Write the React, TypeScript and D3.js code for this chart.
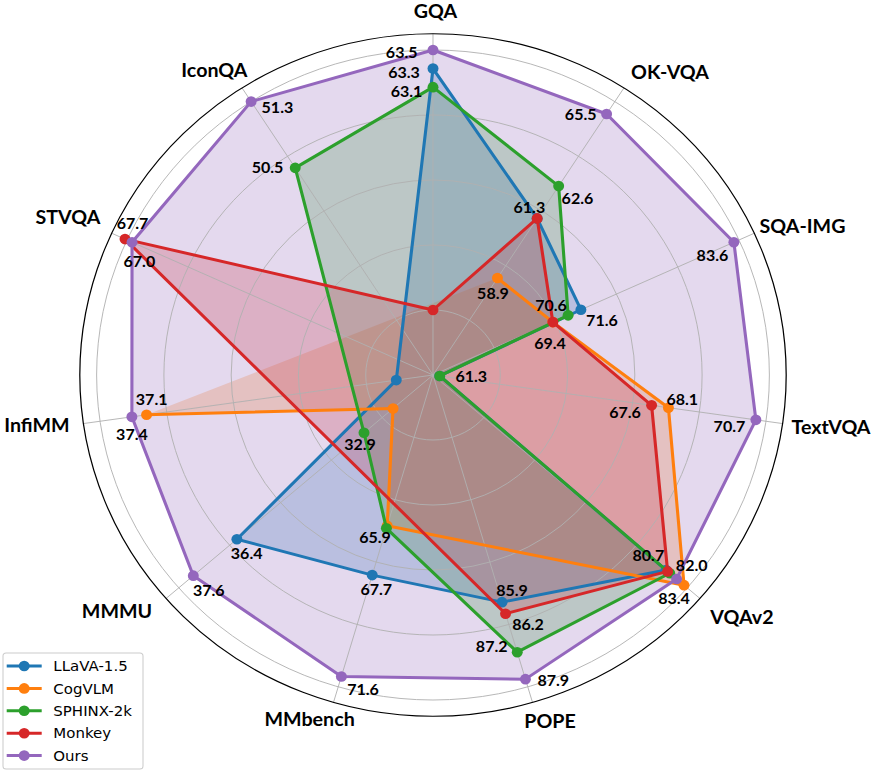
import React from 'react';
import * as d3 from 'd3';

// benchmark axes, clockwise from the top
const axes = ['GQA', 'OK-VQA', 'SQA-IMG', 'TextVQA', 'VQAv2', 'POPE', 'MMbench', 'MMMU', 'InfiMM', 'STVQA', 'IconQA'];
// per-axis value range mapped onto the radius (centre .. unit ring)
const axisMin = [60, 55, 60, 61.1, 36, 80, 60, 31, 31.25, 37, 48];
const axisMax = [63.5, 66, 84, 71, 84, 88.1, 72, 38, 38.05, 67.5, 51.3];

const seriesNames = ['LLaVA-1.5', 'CogVLM', 'SPHINX-2k', 'Monkey', 'Ours'];
// null = not reported, the point is skipped
const llava = [63.3, 61.3, 71.6, 61.3, 80.0, 85.9, 67.7, 36.4, 32.0, null, null];
const cogvlm = [null, 58.9, 69.4, 68.1, 83.4, null, 65.8, 32.1, 37.1, null, null];
const sphinx = [63.1, 62.6, 70.6, 61.3, 80.7, 87.2, 65.9, 32.9, null, null, 50.5];
const monkey = [60.7, 61.3, 69.4, 67.6, 80.3, 86.2, null, null, null, 67.7, null];
const ours = [63.5, 65.5, 83.6, 70.7, 82.0, 87.9, 71.6, 37.6, 37.4, 67.0, 51.3];
const seriesValues: (number | null)[][] = [llava, cogvlm, sphinx, monkey, ours];

const colors = ['#1f77b4', '#ff7f0e', '#2ca02c', '#d62728', '#9467bd'];

// layout ---------------------------------------------------------------
const W = 872;
const H = 773;
const kx = 1.035; // the picture is slightly wider than tall
const cx = 433 / kx;
const cy = 375;
const R = 325;
const rOuter = R * 1.05;
const rings = [0.2, 0.4, 0.6, 0.8, 1.0];

// nudges (px) of the category labels around their spoke end
const axisLabelNudge: [number, number][] = [
  [2.5, -2], [36.7, 1.2], [32.5, 1.7], [31.3, 1], [29, 5], [12.6, -0.7],
  [-19, -2.7], [-36, -1], [-29.3, -1], [-28, -7.6], [-18.3, -0.5],
];

// which values carry a number, and where it sits relative to the marker (px)
const labelOffsets: Record<string, [number, number]> = {
  'LLaVA-1.5|GQA': [-29, 3.4],
  'SPHINX-2k|GQA': [-26.5, 4.4],
  'Ours|GQA': [-31.3, 2],
  'Ours|OK-VQA': [-25.9, 0.5],
  'SPHINX-2k|OK-VQA': [18.8, 12.3],
  'Monkey|OK-VQA': [-7.8, -10.9],
  'CogVLM|OK-VQA': [-4.5, 14.9],
  'Ours|SQA-IMG': [-21.4, 12.8],
  'LLaVA-1.5|SQA-IMG': [21.1, 10.3],
  'SPHINX-2k|SQA-IMG': [-17.1, -10.4],
  'Monkey|SQA-IMG': [-2.8, 20.9],
  'Ours|TextVQA': [-26.4, 6.1],
  'CogVLM|TextVQA': [13.9, -8.7],
  'Monkey|TextVQA': [-26.6, 7.1],
  'SPHINX-2k|TextVQA': [31.6, 0.8],
  'SPHINX-2k|VQAv2': [-21.4, -17.7],
  'Ours|VQAv2': [15.1, -14],
  'CogVLM|VQAv2': [-10, 13.1],
  'LLaVA-1.5|POPE': [10, -12.1],
  'Monkey|POPE': [22.5, 10.8],
  'SPHINX-2k|POPE': [-25.5, -5.5],
  'Ours|POPE': [27.9, 0.8],
  'Ours|MMbench': [21.6, 13],
  'LLaVA-1.5|MMbench': [4.1, 14.6],
  'SPHINX-2k|MMbench': [-11.4, 9.2],
  'SPHINX-2k|MMMU': [-4, 11.7],
  'LLaVA-1.5|MMMU': [9.8, 14.6],
  'Ours|MMMU': [15.5, 15.1],
  'CogVLM|InfiMM': [5.1, -15.6],
  'Ours|InfiMM': [0.1, 17.6],
  'Monkey|STVQA': [7.5, -15.8],
  'Ours|STVQA': [7.3, 19.1],
  'Ours|IconQA': [26.3, 5.4],
  'SPHINX-2k|IconQA': [-27.7, -0.4],
};

const angle = (i: number) => (i * 2 * Math.PI) / axes.length;
const scales = axes.map((_, i) => d3.scaleLinear().domain([axisMin[i], axisMax[i]]).range([0, R]));
const polar = (i: number, r: number): [number, number] => [
  cx + r * Math.sin(angle(i)),
  cy - r * Math.cos(angle(i)),
];

const fmt = d3.format('.1f');
const numFont = "Lato, 'DejaVu Sans', sans-serif";

const App = () => {
  const line = d3.line<[number, number]>();

  const series = seriesNames.map((name, s) => {
    const pts = seriesValues[s]
      .map((v, i) => (v == null ? null : { i, v, p: polar(i, scales[i](v)) }))
      .filter((d): d is { i: number; v: number; p: [number, number] } => d !== null);
    // line closes only when the first axis has a value (as with a NaN gap)
    const closed = seriesValues[s][0] != null;
    return { name, color: colors[s], pts, closed };
  });

  return (
    <svg width={W} height={H} style={{ position: 'absolute', left: 0, top: 0, background: '#fff' }}>
      <g transform={`scale(${kx},1)`}>
        {/* fills */}
        {series.map((d) => (
          <path key={'f' + d.name} d={line(d.pts.map((p) => p.p)) + 'Z'} fill={d.color} fillOpacity={0.25} stroke="none" />
        ))}

        {/* grid */}
        {rings.map((t) => (
          <circle key={t} cx={cx} cy={cy} r={R * t} fill="none" stroke="#b0b0b0" strokeWidth={0.9} />
        ))}
        {axes.map((a, i) => {
          const [x, y] = polar(i, rOuter);
          return <line key={a} x1={cx} y1={cy} x2={x} y2={y} stroke="#b0b0b0" strokeWidth={0.9} />;
        })}
        <circle cx={cx} cy={cy} r={rOuter} fill="none" stroke="#000" strokeWidth={1.2} />

        {/* lines and markers */}
        {series.map((d) => (
          <g key={'l' + d.name}>
            <path
              d={line(d.pts.map((p) => p.p)) + (d.closed ? 'Z' : '')}
              fill="none"
              stroke={d.color}
              strokeWidth={3}
              strokeLinejoin="round"
            />
            {d.pts.map((p) => (
              <circle key={p.i} cx={p.p[0]} cy={p.p[1]} r={5.3} fill={d.color} />
            ))}
          </g>
        ))}

        {/* value labels */}
        {series.map((d) =>
          d.pts.map((p) => {
            const off = labelOffsets[`${d.name}|${axes[p.i]}`];
            if (!off) return null;
            return (
              <text
                key={'t' + d.name + p.i}
                x={p.p[0] + off[0] / kx}
                y={p.p[1] + off[1]}
                dy="0.36em"
                textAnchor="middle"
                fontFamily={numFont}
                fontWeight={700}
                fontSize={15.5}
                fill="#000"
              >
                {fmt(p.v)}
              </text>
            );
          })
        )}

        {/* category labels */}
        {axes.map((a, i) => {
          const x = cx + (370.5 / kx) * Math.sin(angle(i)) + axisLabelNudge[i][0] / kx;
          const y = cy - 362 * Math.cos(angle(i)) + axisLabelNudge[i][1];
          return (
            <text
              key={'a' + a}
              x={x}
              y={y}
              dy="0.36em"
              textAnchor="middle"
              fontFamily={numFont}
              fontWeight={700}
              fontSize={19}
              fill="#000"
            >
              {a}
            </text>
          );
        })}

        {/* legend */}
        <g fontFamily="'DejaVu Sans', sans-serif" fontSize={14.5}>
          <rect x={3 / kx} y={653} width={140 / kx} height={116} rx={3} fill="#fff" fillOpacity={0.8} stroke="#cccccc" strokeWidth={1} />
          {series.map((d, s) => {
            const y = 666 + s * 22.4;
            return (
              <g key={'lg' + d.name}>
                <line x1={6.7 / kx} x2={41.7 / kx} y1={y} y2={y} stroke={d.color} strokeWidth={3} />
                <circle cx={24.2 / kx} cy={y} r={5.3} fill={d.color} />
                <text x={53.3 / kx} y={y} dy="0.36em" fill="#000">
                  {d.name}
                </text>
              </g>
            );
          })}
        </g>
      </g>
    </svg>
  );
};

export default App;
